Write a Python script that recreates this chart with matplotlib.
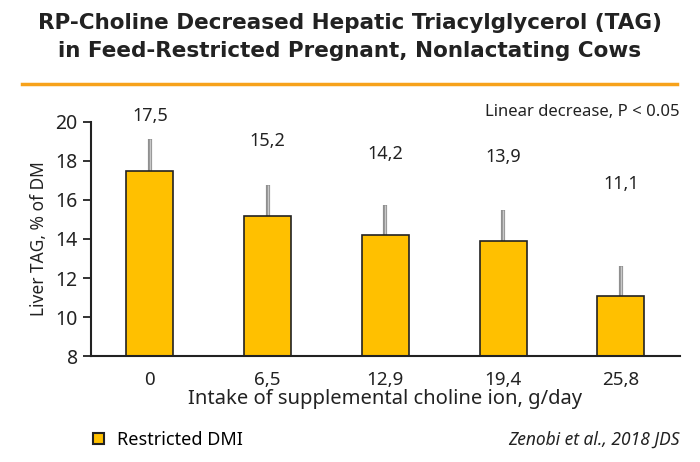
import matplotlib.pyplot as plt
from matplotlib.patches import Patch
from matplotlib.lines import Line2D

plt.rcParams['font.family'] = ['Noto Sans', 'DejaVu Sans']

doses = ['0', '6,5', '12,9', '19,4', '25,8']
tag = [17.5, 15.2, 14.2, 13.9, 11.1]
tag_err = [1.65, 1.55, 1.55, 1.6, 1.5]
tag_text = ['17,5', '15,2', '14,2', '13,9', '11,1']
# heights at which the value labels sit (layout)
label_y = [20.3, 19.0, 18.35, 18.2, 16.8]

fig = plt.figure(figsize=(7, 4.62), dpi=100)
ax = fig.add_axes([0.13, 0.2294, 0.841, 0.5066])

x = range(len(doses))
ax.bar(x, tag, width=0.4, color='#FFC000', edgecolor='#222222', linewidth=1.2, zorder=2)
ax.errorbar(x, tag, yerr=[[0] * len(tag), tag_err], fmt='none', ecolor='#8f8f8f',
            elinewidth=3, capsize=0, zorder=1)
ax.errorbar(x, tag, yerr=[[0] * len(tag), tag_err], fmt='none', ecolor='#c8c8c8',
            elinewidth=1, capsize=0, zorder=1)
for i in x:
    ax.text(i, label_y[i], tag_text[i], ha='center', va='center', fontsize=13, color='#222222')

ax.set_xlim(-0.5, 4.5)
ax.set_ylim(8, 20)
ax.set_yticks(range(8, 21, 2))
ax.set_xticks(list(x))
ax.set_xticklabels(doses)
ax.tick_params(axis='x', length=0, labelsize=13.5, pad=11, colors='#222222')
ax.tick_params(axis='y', length=6, width=1.3, labelsize=14, colors='#222222')
for s in ['top', 'right']:
    ax.spines[s].set_visible(False)
for s in ['left', 'bottom']:
    ax.spines[s].set_linewidth(1.5)
    ax.spines[s].set_color('#222222')
ax.set_ylabel('Liver TAG, % of DM', fontsize=12.5, color='#222222', labelpad=5)
ax.set_xlabel('Intake of supplemental choline ion, g/day', fontsize=14.5, color='#222222', labelpad=0)

title_font = dict(family='DejaVu Sans', fontsize=15.5, fontweight='bold', color='#222222')
fig.text(0.5, 0.951, 'RP-Choline Decreased Hepatic Triacylglycerol (TAG)', ha='center', va='center',
         **title_font)
fig.text(0.5, 0.890, 'in Feed-Restricted Pregnant, Nonlactating Cows', ha='center', va='center',
         **title_font)
fig.add_artist(Line2D([0.031, 0.967], [0.818, 0.818], color='#F7A21B', linewidth=2.5))

fig.text(0.971, 0.758, 'Linear decrease, P < 0.05', ha='right', va='center', fontsize=12, color='#222222')
fig.text(0.971, 0.048, 'Zenobi et al., 2018 JDS', ha='right', va='center', fontsize=12.5,
         style='italic', color='#222222')

fig.legend(handles=[Patch(facecolor='#FFC000', edgecolor='#222222', linewidth=1.5, label='Restricted DMI')],
           loc='center left', bbox_to_anchor=(0.11, 0.048), frameon=False, fontsize=13,
           handlelength=0.6, handleheight=0.6, handletextpad=0.7)

fig.savefig('out.png', dpi=100)
